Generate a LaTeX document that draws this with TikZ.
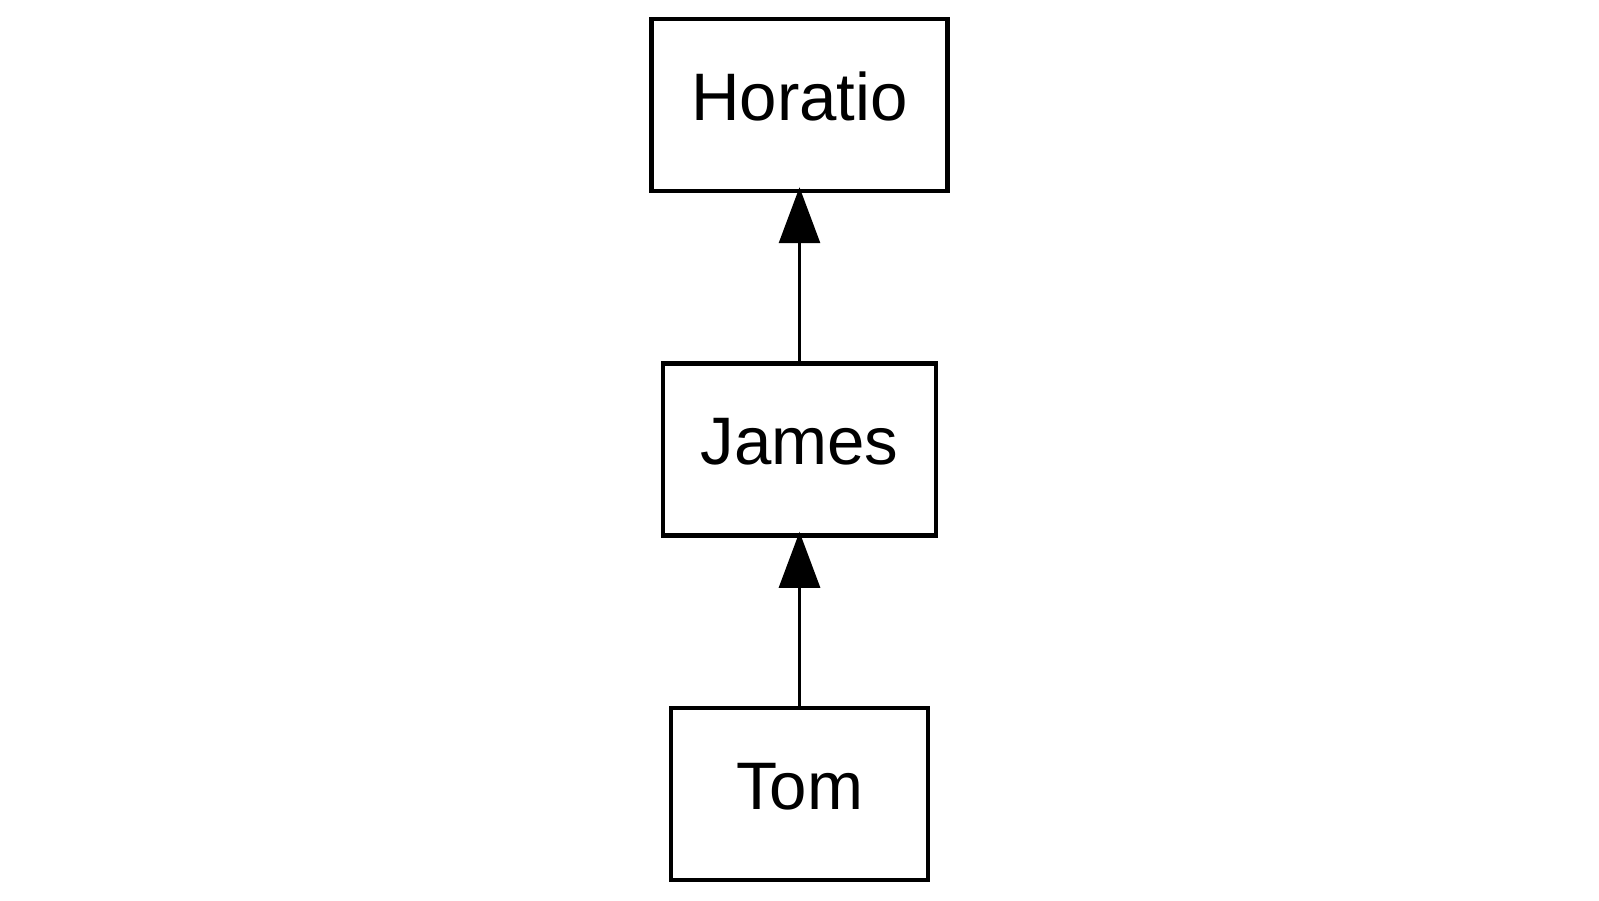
\documentclass[tikz,border=0pt]{standalone}
\usepackage{fontspec}
\setmainfont{Liberation Sans}
\usetikzlibrary{arrows.meta}

\tikzset{
	persona/.style={rectangle, draw, line width=2.2pt, minimum height=86pt, text height=24pt, text depth=9pt, font=\fontsize{33.6}{38}\selectfont},
	eredita/.style={-{Triangle[width=20.4pt, length=28pt]}, line width=1.8pt, shorten >=-3pt}
}

\begin{document}
\begin{tikzpicture}[auto]
		\useasboundingbox (0pt,0pt) rectangle (799.5pt,-450pt);
		% Definizione dei nodi
		\node[persona, minimum width=148pt] (Horatio) at (399.75pt,-52.5pt) {Horatio};
		\node[persona, minimum width=136.5pt] (James) at (399.75pt,-224.8pt) {James};
		\node[persona, minimum width=128.5pt] (Tom) at (399.75pt,-397pt) {Tom};
		
		% Collegamenti
		\draw[eredita] (James) -- (Horatio);
		\draw[eredita] (Tom) -- (James);
	\end{tikzpicture}
\end{document}
